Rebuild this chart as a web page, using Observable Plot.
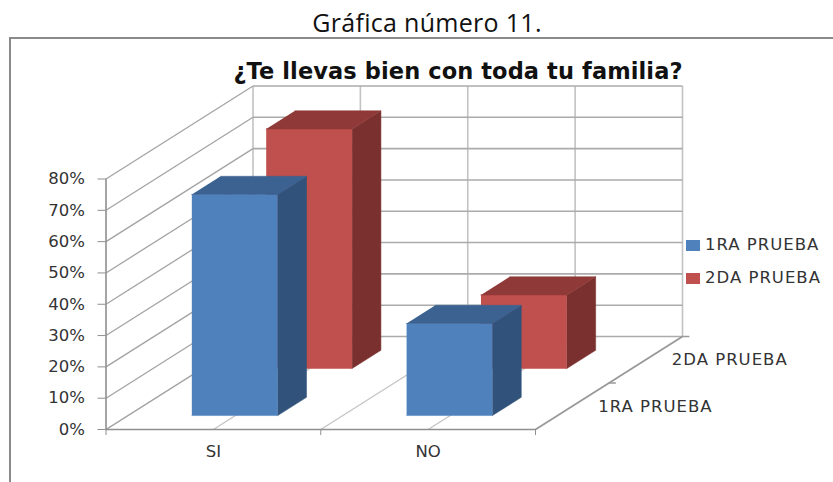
<!DOCTYPE html>
<html>
<head>
<meta charset="utf-8">
<script src="https://cdn.jsdelivr.net/npm/d3@7"></script>
<script src="https://cdn.jsdelivr.net/npm/@observablehq/plot@0.6"></script>
<style>
  html,body{margin:0;padding:0;background:#fff;width:833px;height:482px;overflow:hidden}
  #page{position:relative;width:833px;height:482px}
  #cap{position:absolute;left:0;right:0;top:5px;padding-left:21px;box-sizing:border-box;text-align:center;font:25px/34px "Open Sans",sans-serif;color:#111;letter-spacing:.3px}
  #frame{position:absolute;left:9px;top:37px;right:-4px;bottom:-4px;border-top:2px solid #8a8a8a;border-left:2px solid #8a8a8a}
  #chart{position:absolute;left:0;top:38px}
  #title{position:absolute;left:233px;top:54px;width:450px;text-align:center;white-space:nowrap;font:bold 22.5px/34px "DejaVu Sans",sans-serif;color:#111;letter-spacing:.1px}
  .lg{position:absolute;left:686px;font:16.5px/18px "DejaVu Sans",sans-serif;color:#333;white-space:nowrap;letter-spacing:1px}
  .lg i{display:inline-block;width:14px;height:11px;margin-right:5px;vertical-align:-1px}
</style>
</head>
<body>
<div id="page">
  <div id="cap">Gráfica número 11.</div>
  <div id="frame"></div>
  <div id="chart"></div>
  <div id="title">¿Te llevas bien con toda tu familia?</div>
  <div id="legend"></div>
</div>
<script>
const categories = ["SI", "NO"];
const seriesNames = ["1RA PRUEBA", "2DA PRUEBA"];
const prueba1 = [70.6, 29.4];
const prueba2 = [76.5, 23.5];
const yTicks = [0, 10, 20, 30, 40, 50, 60, 70, 80];
const frontColors = ["#4f81bd", "#c0504d"];
const sideColors = ["#31527a", "#7a302e"];
const topColors = ["#3c6291", "#8f3a38"];

// Oblique projection: c = category units, v = percent, d = depth 0..1
const depthX = 0.6845, depthY = 29.7;
const px = (c, d) => c + d * depthX;
const py = (v, d) => v + d * depthY;
const seg = (c1, v1, d1, c2, v2, d2) => ({x1: px(c1, d1), y1: py(v1, d1), x2: px(c2, d2), y2: py(v2, d2)});

const halves = [0, 0.5, 1, 1.5, 2];
const backH = yTicks.map(v => seg(0, v, 1, 2, v, 1));
const backV = halves.map(c => seg(c, 0, 1, c, 80, 1));
const side = yTicks.map(v => seg(0, v, 0, 0, v, 1));
const floor = halves.map(c => seg(c, 0, 0, c, 0, 1));

// Bars: [series, front depth]
const slotDepth = [0.15, 0.656];
const barDepth = 0.196, gap = 0.297, barW = 0.4;
const series = [prueba1, prueba2];
const faces = [];
[1, 0].forEach(s => categories.forEach((cat, i) => {
  const v = series[s][i];
  const c0 = i + gap, c1 = c0 + barW, d0 = slotDepth[s], d1 = d0 + barDepth;
  const add = (name, color, pts) => pts.forEach(([c, val, d]) =>
    faces.push({id: `${s}-${i}-${name}`, color, x: px(c, d), y: py(val, d)}));
  add("front", frontColors[s], [[c0,0,d0],[c1,0,d0],[c1,v,d0],[c0,v,d0]]);
  add("side", sideColors[s], [[c1,0,d0],[c1,0,d1],[c1,v,d1],[c1,v,d0]]);
  add("top", topColors[s], [[c0,v,d0],[c1,v,d0],[c1,v,d1],[c0,v,d1]]);
}));

const depthLabels = seriesNames.map((name, i) => ({name, x: px(2, 0.25 + i * 0.5), y: py(0, 0.25 + i * 0.5)}));
const depthTicks = [0.5, 1].map(d => ({x1: px(2, d), x2: px(2, d) + 0.032, y: py(0, d)}));

const link = (data, stroke, strokeWidth) => Plot.link(data, {x1: "x1", y1: "y1", x2: "x2", y2: "y2", stroke, strokeWidth});

const plot = Plot.plot({
  width: 833, height: 444,
  marginLeft: 105.5, marginRight: 298, marginTop: 140.5, marginBottom: 53,
  x: {domain: [0, 2]},
  y: {domain: [0, 80]},
  color: {type: "identity"},
  style: {fontFamily: "DejaVu Sans", fontSize: "16.5px", background: "transparent", color: "#333"},
  marks: [
    link(floor, "#c4c4c4", 1.3),
    link(backV, "#c2c2c2", 1.6),
    link(backH, "#ababab", 1.6),
    link(side, "#a3a3a3", 1.3),
    Plot.line(faces, {x: "x", y: "y", z: "id", fill: "color", stroke: "color", strokeWidth: 0.5}),
    Plot.ruleX([0], {y1: 0, y2: 80, stroke: "#8f8f8f", strokeWidth: 1.6}),
    Plot.ruleY([0], {x1: 0, x2: 2, stroke: "#8f8f8f", strokeWidth: 1.6}),
    link([seg(2, 0, 0, 2, 0, 1)], "#9a9a9a", 1.6),
    Plot.link(depthTicks, {x1: "x1", x2: "x2", y1: "y", y2: "y", stroke: "#9a9a9a", strokeWidth: 1.5}),
    Plot.axisY({ticks: yTicks, tickFormat: d => d + "%", tickSize: 8, tickPadding: 13, stroke: "#8f8f8f", fill: "#333", label: null}),
    Plot.axisX({ticks: [0, 1, 2], tickFormat: () => "", tickSize: 6, stroke: "#8f8f8f", label: null}),
    Plot.axisX({ticks: [0.5, 1.5], tickFormat: d => categories[Math.floor(d)], tickSize: 0, tickPadding: 16, fill: "#333", label: null}),
    Plot.text(depthLabels, {x: "x", y: "y", text: "name", textAnchor: "start", dx: 26, fill: "#333", style: "letter-spacing:1px"})
  ]
});
plot.querySelectorAll("text").forEach(t => { if (/PRUEBA/.test(t.textContent)) t.style.letterSpacing = "1px"; });
document.getElementById("chart").append(plot);

const lg = document.getElementById("legend");
seriesNames.forEach((n, i) => {
  const e = document.createElement("div");
  e.className = "lg";
  e.style.top = (236 + i * 33) + "px";
  e.innerHTML = `<i style="background:${frontColors[i]}"></i>${n}`;
  lg.append(e);
});
</script>
</body>
</html>
